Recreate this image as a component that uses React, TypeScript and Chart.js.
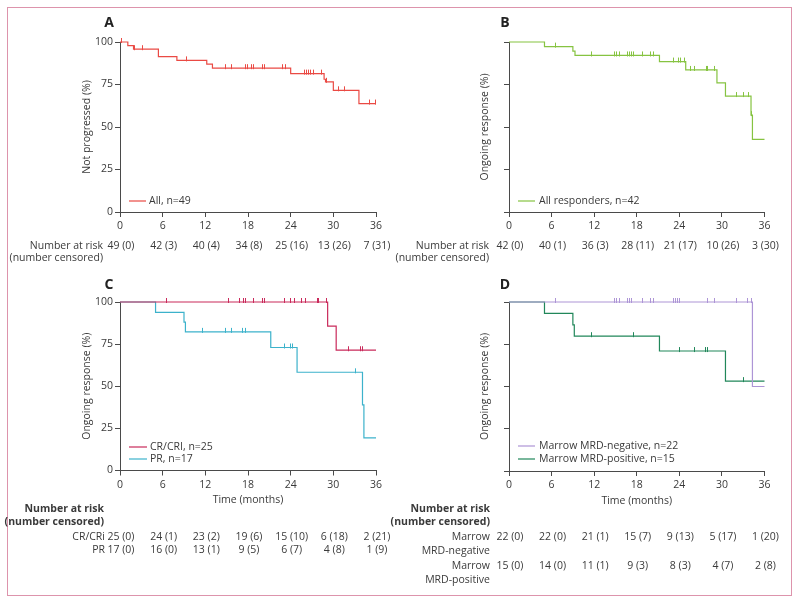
import React, { useEffect, useRef } from 'react';
import { Chart, registerables } from 'chart.js';

Chart.register(...registerables);

const FONT = '"Open Sans", "DejaVu Sans", sans-serif';
const FS = 10.5;
const TEXT = '#3a3a3a';
const AXIS = '#4a4a4a';
const W = 800;
const H = 604;

// ---- data ----
const riskMonths = [0, 6, 12, 18, 24, 30, 36];
const xTicks = [0, 6, 12, 18, 24, 30, 36];
const yTicks = [0, 25, 50, 75, 100];

// Panel A: progression-free (all, n=49)
const aTimes = [0, 1.1, 1.9, 5.4, 8.0, 12.2, 13.0, 24.0, 28.7, 28.9, 30.0, 33.6, 36];
const aSurv = [100, 97.9, 95.8, 91.4, 89.2, 87.0, 84.6, 81.4, 78.1, 76.6, 71.6, 63.8, 63.8];
const aCens = [0.2, 2.0, 3.1, 9.4, 14.8, 15.7, 17.7, 17.9, 18.5, 18.8, 20.1, 20.3, 22.8, 23.3, 25.9, 26.2, 26.5, 26.8, 27.2, 28.3, 29.0, 30.7, 31.5, 35.1, 35.9];
const aRisk = ['49 (0)', '42 (3)', '40 (4)', '34 (8)', '25 (16)', '13 (26)', '7 (31)'];

// Panel B: ongoing response (all responders, n=42)
const bTimes = [0, 5.0, 9.0, 9.3, 21.2, 24.9, 29.3, 30.5, 34.1, 34.3, 36];
const bSurv = [100, 97.3, 94.6, 92.1, 88.5, 83.6, 76.0, 68.2, 57.0, 42.7, 42.7];
const bCens = [6.6, 11.6, 14.8, 15.2, 15.6, 16.7, 17.0, 17.3, 17.5, 18.8, 20.0, 20.3, 23.2, 23.9, 24.1, 24.7, 25.6, 26.1, 27.8, 27.9, 29.0, 32.0, 33.1, 33.7, 34.2];
const bRisk = ['42 (0)', '40 (1)', '36 (3)', '28 (11)', '21 (17)', '10 (26)', '3 (30)'];

// Panel C: CR/CRi vs PR
const crTimes = [0, 29.2, 30.4, 36];
const crSurv = [100, 85.7, 71.4, 71.4];
const crCens = [6.6, 15.3, 16.8, 17.4, 17.6, 18.8, 20.1, 20.3, 23.2, 24.0, 24.5, 25.5, 26.1, 27.8, 27.9, 29.0, 32.1, 33.8, 34.1];
const crRisk = ['25 (0)', '24 (1)', '23 (2)', '19 (6)', '15 (10)', '6 (18)', '2 (21)'];

const prTimes = [0, 5.0, 9.0, 9.2, 21.2, 24.9, 34.1, 34.3, 36];
const prSurv = [100, 93.8, 88.0, 82.3, 73.0, 58.3, 38.9, 19.4, 19.4];
const prCens = [11.6, 14.8, 15.7, 17.2, 17.6, 23.2, 24.0, 24.2, 33.1];
const prRisk = ['17 (0)', '16 (0)', '13 (1)', '9 (5)', '6 (7)', '4 (8)', '1 (9)'];

// Panel D: marrow MRD-negative vs MRD-positive
const negTimes = [0, 34.3, 36];
const negSurv = [100, 50.0, 50.0];
const negCens = [6.6, 14.9, 15.2, 15.6, 16.7, 17.0, 17.3, 18.8, 20.0, 20.3, 23.2, 23.4, 23.7, 24.0, 28.0, 28.9, 32.1, 33.6, 34.1];
const negRisk = ['22 (0)', '22 (0)', '21 (1)', '15 (7)', '9 (13)', '5 (17)', '1 (20)'];

const posTimes = [0, 5.0, 9.0, 9.2, 21.2, 30.5, 36];
const posSurv = [100, 93.3, 86.5, 79.8, 71.0, 53.2, 53.2];
const posCens = [11.6, 17.6, 24.0, 26.2, 27.7, 27.9, 33.1];
const posRisk = ['15 (0)', '14 (0)', '11 (1)', '9 (3)', '8 (3)', '4 (7)', '2 (8)'];

// ---- colours ----
const COL_A = '#ea4a44';
const COL_B = '#86c341';
const COL_CR = '#c92a5b';
const COL_PR = '#3cb2cb';
const COL_NEG = '#ad95d6';
const COL_POS = '#21875a';

type Curve = { label: string; color: string; times: number[]; surv: number[]; cens: number[] };
type Row = { labels: string[]; labelYs: number[]; y: number; values: string[] };
type Spec = {
  letter: string;
  letterPos: [number, number];
  plot: { left: number; right: number; top: number; bottom: number };
  titleX: number;
  yTitle: string;
  xTitle?: string;
  showYLabels: boolean;
  xH: number;
  curves: Curve[];
  legend: { x1: number; x2: number; tx: number; ys: number[] };
  header: { x: number; ys: number[]; bold: boolean };
  rowLabelX: number;
  rows: Row[];
};

const specs: Spec[] = [
  {
    letter: 'A', letterPos: [109, 23],
    plot: { left: 120, right: 376, top: 42, bottom: 212 },
    titleX: 87, yTitle: 'Not progressed (%)', showYLabels: true, xH: 30,
    curves: [{ label: 'All, n=49', color: COL_A, times: aTimes, surv: aSurv, cens: aCens }],
    legend: { x1: 129, x2: 146, tx: 149, ys: [201] },
    header: { x: 103, ys: [246, 258], bold: false },
    rowLabelX: 103,
    rows: [{ labels: [], labelYs: [], y: 246, values: aRisk }],
  },
  {
    letter: 'B', letterPos: [505, 23],
    plot: { left: 509, right: 764.5, top: 42, bottom: 212 },
    titleX: 485, yTitle: 'Ongoing response (%)', showYLabels: false, xH: 30,
    curves: [{ label: 'All responders, n=42', color: COL_B, times: bTimes, surv: bSurv, cens: bCens }],
    legend: { x1: 518, x2: 535, tx: 539, ys: [201] },
    header: { x: 489, ys: [246, 258], bold: false },
    rowLabelX: 489,
    rows: [{ labels: [], labelYs: [], y: 246, values: bRisk }],
  },
  {
    letter: 'C', letterPos: [109, 285],
    plot: { left: 120, right: 376, top: 302, bottom: 470.5 },
    titleX: 87, yTitle: 'Ongoing response (%)', xTitle: 'Time (months)', showYLabels: true, xH: 36,
    curves: [
      { label: 'CR/CRI, n=25', color: COL_CR, times: crTimes, surv: crSurv, cens: crCens },
      { label: 'PR, n=17', color: COL_PR, times: prTimes, surv: prSurv, cens: prCens },
    ],
    legend: { x1: 129, x2: 147, tx: 150, ys: [447, 459] },
    header: { x: 104, ys: [509, 522], bold: true },
    rowLabelX: 105,
    rows: [
      { labels: ['CR/CRi'], labelYs: [537], y: 537, values: crRisk },
      { labels: ['PR'], labelYs: [550], y: 550, values: prRisk },
    ],
  },
  {
    letter: 'D', letterPos: [505, 285],
    plot: { left: 509, right: 764.5, top: 302, bottom: 471 },
    titleX: 485, yTitle: 'Ongoing response (%)', xTitle: 'Time (months)', showYLabels: false, xH: 36,
    curves: [
      { label: 'Marrow MRD-negative, n=22', color: COL_NEG, times: negTimes, surv: negSurv, cens: negCens },
      { label: 'Marrow MRD-positive, n=15', color: COL_POS, times: posTimes, surv: posSurv, cens: posCens },
    ],
    legend: { x1: 518, x2: 535, tx: 539, ys: [446, 459] },
    header: { x: 490, ys: [509, 522], bold: true },
    rowLabelX: 490,
    rows: [
      { labels: ['Marrow', 'MRD-negative'], labelYs: [537, 551], y: 537, values: negRisk },
      { labels: ['Marrow', 'MRD-positive'], labelYs: [566, 580], y: 566, values: posRisk },
    ],
  },
];

function survAt(times: number[], vals: number[], t: number) {
  let v = vals[0];
  for (let i = 0; i < times.length; i++) if (times[i] <= t) v = vals[i];
  return v;
}

function tickMark(color: string) {
  const c = document.createElement('canvas');
  c.width = 1;
  c.height = 10;
  const g = c.getContext('2d')!;
  g.fillStyle = color;
  g.fillRect(0, 1, 1, 5);
  return c;
}

const extraPlugin = {
  id: 'kmExtra',
  afterDraw(chart: any) {
    const spec: Spec = chart.options.plugins.kmExtra;
    if (!spec) return;
    const ctx: CanvasRenderingContext2D = chart.ctx;
    const xs = chart.scales.x;
    ctx.save();
    // panel letter
    ctx.fillStyle = '#222';
    ctx.font = `bold 14px ${FONT}`;
    ctx.textAlign = 'center';
    ctx.textBaseline = 'middle';
    ctx.fillText(spec.letter, spec.letterPos[0], spec.letterPos[1]);
    // legend
    ctx.font = `${FS}px ${FONT}`;
    ctx.textAlign = 'left';
    spec.curves.forEach((c, i) => {
      const y = spec.legend.ys[i];
      ctx.strokeStyle = c.color;
      ctx.lineWidth = 1.2;
      ctx.beginPath();
      ctx.moveTo(spec.legend.x1, y);
      ctx.lineTo(spec.legend.x2, y);
      ctx.stroke();
      ctx.fillStyle = TEXT;
      ctx.fillText(c.label, spec.legend.tx, y);
    });
    // risk table header
    ctx.textAlign = 'right';
    ctx.fillStyle = TEXT;
    ctx.font = `${spec.header.bold ? 'bold ' : ''}${FS}px ${FONT}`;
    ctx.fillText('Number at risk', spec.header.x, spec.header.ys[0]);
    ctx.fillText('(number censored)', spec.header.x, spec.header.ys[1]);
    ctx.font = `${FS}px ${FONT}`;
    spec.rows.forEach((r) => {
      r.labels.forEach((l, j) => {
        ctx.textAlign = 'right';
        ctx.fillText(l, spec.rowLabelX, r.labelYs[j]);
      });
      ctx.textAlign = 'center';
      r.values.forEach((v, k) => {
        ctx.fillText(v, xs.getPixelForValue(riskMonths[k]) + 1, r.y);
      });
    });
    ctx.restore();
  },
};

function Panel({ spec }: { spec: Spec }) {
  const ref = useRef<HTMLCanvasElement>(null);
  useEffect(() => {
    const canvas = ref.current!;
    Chart.defaults.font.family = FONT;
    Chart.defaults.font.size = FS;
    Chart.defaults.color = TEXT;
    const half = FS * 1.2 / 2;
    const padLeft = spec.titleX - half;
    const yW = spec.plot.left - padLeft;
    const padRight = W - spec.plot.right;
    const padTop = spec.plot.top;
    const padBottom = H - spec.plot.bottom - spec.xH;

    const lineSets = spec.curves.map((c) => ({
      type: 'line' as const,
      data: c.times.map((t, i) => ({ x: t, y: c.surv[i] })),
      borderColor: c.color,
      backgroundColor: c.color,
      borderWidth: 1.2,
      stepped: 'before' as const,
      pointRadius: 0,
      fill: false,
      clip: false as any,
    }));
    const censSets = spec.curves.map((c) => ({
      type: 'line' as const,
      data: c.cens.map((t) => ({ x: t, y: survAt(c.times, c.surv, t) })),
      showLine: false,
      pointStyle: tickMark(c.color) as any,
      pointRadius: 3,
      borderColor: c.color,
      backgroundColor: c.color,
      clip: false as any,
    }));

    const chart = new Chart(canvas, {
      type: 'line',
      data: { datasets: [...censSets, ...lineSets] as any },
      options: {
        animation: false,
        responsive: false,
        maintainAspectRatio: false,
        events: [],
        layout: { padding: { left: padLeft, right: padRight, top: padTop, bottom: padBottom } },
        plugins: {
          legend: { display: false },
          tooltip: { enabled: false },
          kmExtra: spec,
        } as any,
        scales: {
          x: {
            type: 'linear',
            min: 0,
            max: 36,
            afterFit: (s: any) => { s.height = spec.xH; },
            afterBuildTicks: (s: any) => { s.ticks = xTicks.map((v) => ({ value: v })); },
            ticks: { padding: 3, color: TEXT, maxRotation: 0, autoSkip: false, font: { size: FS } },
            grid: { drawOnChartArea: false, drawTicks: true, tickLength: 5, color: AXIS, lineWidth: 1 },
            border: { display: true, color: AXIS, width: 1 },
            title: { display: !!spec.xTitle, text: spec.xTitle || '', padding: 0, color: TEXT, font: { size: FS } },
          },
          y: {
            type: 'linear',
            min: 0,
            max: 100,
            afterFit: (s: any) => { s.width = yW; },
            afterBuildTicks: (s: any) => { s.ticks = yTicks.map((v) => ({ value: v })); },
            ticks: {
              padding: 2,
              color: TEXT,
              font: { size: FS },
              callback: (v: any) => (spec.showYLabels ? String(v) : ''),
            },
            grid: { drawOnChartArea: false, drawTicks: true, tickLength: 5, color: AXIS, lineWidth: 1 },
            border: { display: true, color: AXIS, width: 1 },
            title: { display: true, text: spec.yTitle, padding: 0, color: TEXT, font: { size: FS } },
          },
        },
      } as any,
      plugins: [extraPlugin],
    });
    return () => chart.destroy();
  }, [spec]);
  return (
    <canvas
      ref={ref}
      width={W}
      height={H}
      style={{ position: 'absolute', left: 0, top: 0, width: W, height: H }}
    />
  );
}

export default function App() {
  return (
    <div style={{ position: 'absolute', left: 0, top: 0, width: W, height: H, background: '#fff', overflow: 'hidden' }}>
      <div
        style={{
          position: 'absolute',
          left: 7,
          top: 7,
          width: 785,
          height: 589,
          border: '1.5px solid #dd94ac',
          boxSizing: 'border-box',
        }}
      />
      {specs.map((s) => (
        <Panel key={s.letter} spec={s} />
      ))}
    </div>
  );
}
